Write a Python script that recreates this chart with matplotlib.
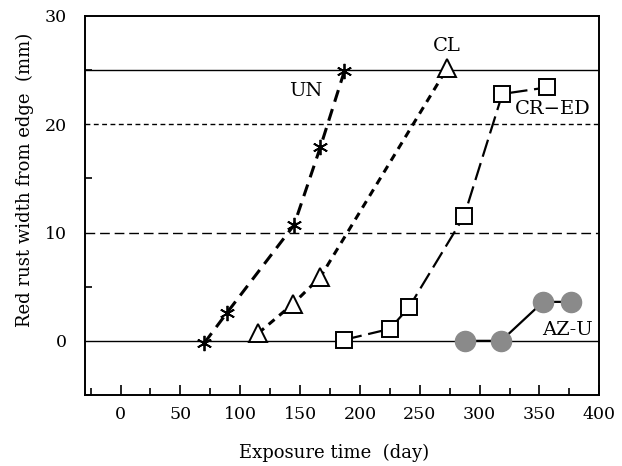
import matplotlib
matplotlib.use('Agg')
import matplotlib.pyplot as plt
from matplotlib.ticker import MultipleLocator

plt.rcParams['font.family'] = ['DejaVu Serif']

# exposure time (day) and red rust width (mm) for each coating
un_x = [70, 89, 145, 167, 187]
un_y = [-0.2, 2.6, 10.7, 17.9, 24.9]

cl_x = [115, 144, 167, 273]
cl_y = [0.7, 3.4, 5.9, 25.2]

cr_x = [187, 225, 241, 287, 319, 356]
cr_y = [0.1, 1.1, 3.1, 11.5, 22.8, 23.4]

az_x = [288, 318, 353, 376]
az_y = [0.0, 0.0, 3.6, 3.6]

labels = ['UN', 'CL', 'CR\u2212ED', 'AZ-U']
label_pos = [(155, 23.1), (273, 27.2), (361, 21.4), (373, 1.0)]

fig = plt.figure(figsize=(6.22, 4.66), dpi=100)
ax = fig.add_axes([0.136, 0.1524, 0.8275, 0.8133])

# reference levels
ax.axhline(0, color='black', lw=1.0, zorder=1)
ax.axhline(25, color='black', lw=1.0, zorder=1)
ax.axhline(20, color='black', lw=1.0, ls=(0, (3.5, 2.5)), zorder=1)
ax.axhline(10, color='black', lw=1.0, ls=(0, (7, 3.5)), zorder=1)

ax.plot(un_x, un_y, color='black', lw=2.2, ls=(0, (4, 2.5)),
        marker=(6, 2, 0), ms=11, mew=1.3, zorder=3)
ax.plot(cl_x, cl_y, color='black', lw=2.2, ls=(0, (2.5, 2)),
        marker='^', ms=13, mfc='white', mew=1.4, zorder=3)
ax.plot(cr_x, cr_y, color='black', lw=1.6, ls=(0, (8, 3)),
        marker='s', ms=12, mfc='white', mew=1.4, zorder=3)
ax.plot(az_x, az_y, color='black', lw=1.6,
        marker='o', ms=14.5, mfc='#8a8a8a', mec='#8a8a8a', zorder=3)

for txt, (lx, ly) in zip(labels, label_pos):
    ax.text(lx, ly, txt, fontsize=14, ha='center', va='center')

ax.set_xlim(-30, 400)
ax.set_ylim(-5, 30)
ax.xaxis.set_major_locator(MultipleLocator(50))
ax.xaxis.set_minor_locator(MultipleLocator(25))
ax.yaxis.set_major_locator(MultipleLocator(10))
ax.yaxis.set_minor_locator(MultipleLocator(5))
ax.tick_params(which='both', direction='in', labelsize=12.5, width=1.2)
ax.tick_params(which='major', length=7, pad=8)
ax.tick_params(which='minor', length=5)
ax.tick_params(axis='y', which='major', length=0, pad=13)
ax.tick_params(axis='y', which='minor', length=5)
for s in ax.spines.values():
    s.set_linewidth(1.4)

fig.text(334 / 622, 1 - 453 / 466, 'Exposure time  (day)', fontsize=13,
         ha='center', va='center')
fig.text(25 / 622, 1 - 180 / 466, 'Red rust width from edge  (mm)', fontsize=13,
         ha='center', va='center', rotation=90)

fig.savefig('out.png', dpi=100)
